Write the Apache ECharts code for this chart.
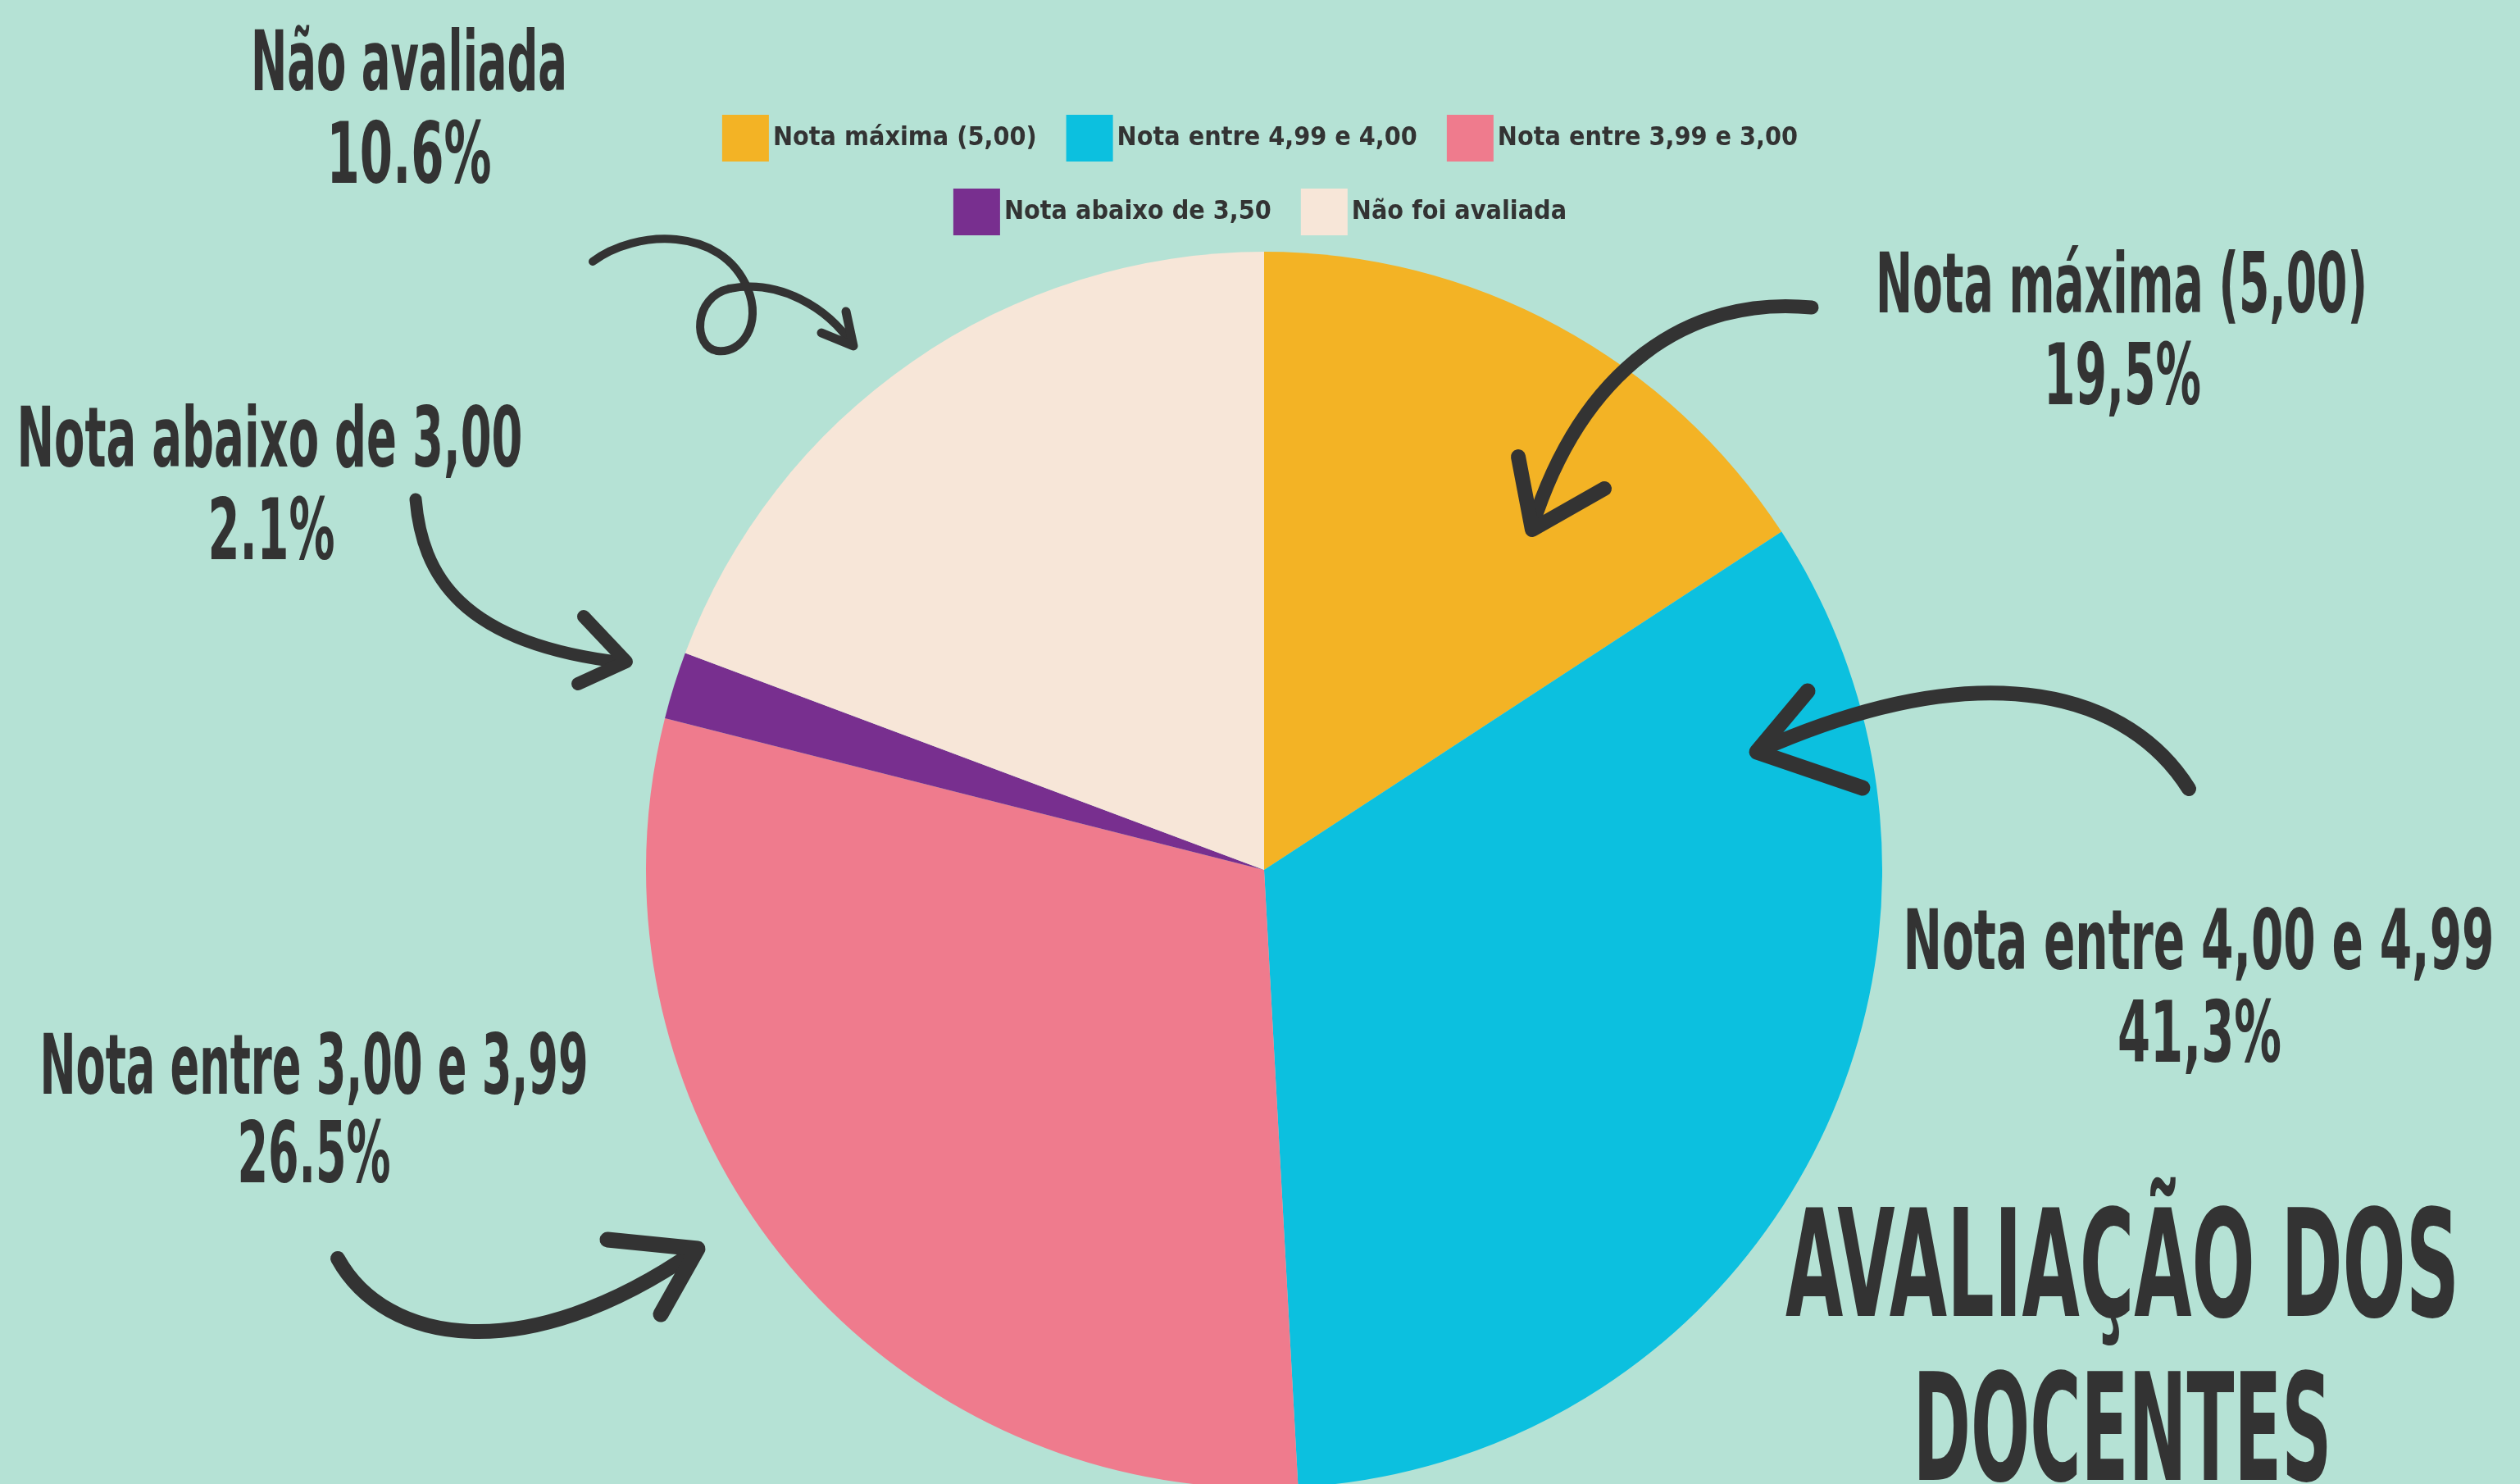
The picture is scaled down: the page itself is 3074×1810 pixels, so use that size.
<!DOCTYPE html>
<html>
<head>
<meta charset="utf-8">
<title>Avaliação dos docentes</title>
<script src="https://cdn.jsdelivr.net/npm/echarts@6/dist/echarts.min.js"></script>
<style>
  html, body { margin: 0; padding: 0; background: #b5e2d5; }
  #chart { width: 3074px; height: 1810px; }
</style>
</head>
<body>
<div id="chart"></div>
<script>
// slices (9/19/17/1/11 of 57)
const categories = ['Nota máxima (5,00)', 'Nota entre 4,99 e 4,00', 'Nota entre 3,99 e 3,00', 'Nota abaixo de 3,50', 'Não foi avaliada'];
const counts = [9, 19, 17, 1, 11];
const sliceColors = ['#f3b325', '#0cc0df', '#ef7b8d', '#782f8f', '#f7e6d8'];

// callout texts written on the picture
const calloutTitles = ['Não avaliada', 'Nota abaixo de 3,00', 'Nota máxima (5,00)', 'Nota entre 4,00 e 4,99', 'Nota entre 3,00 e 3,99'];
const calloutPercents = ['10.6%', '2.1%', '19,5%', '41,3%', '26.5%'];
const titleLines = ['AVALIAÇÃO DOS', 'DOCENTES'];

const FONT = "'Liberation Sans Narrow', 'DejaVu Sans Condensed', 'Roboto', sans-serif";
const INK = '#333333';

// layout of the callouts: [centerX, midY, target width]
const titlePos = [[499, 84, 386], [329, 543, 617], [2588, 355, 600], [2682, 1156, 721], [383, 1308, 669]];
const pctPos = [[499, 196, 201], [331, 655, 155], [2589, 466, 192], [2683, 1268, 200], [383, 1415, 187]];
const headPos = [[2589, 1558, 822], [2589, 1758, 511]];

// hand drawn arrows: cubic pieces [x1,y1,cx1,cy1,cx2,cy2,x2,y2], heads, widths
const arrowCurves = [
  [[723, 319, 775, 280, 880, 275, 912, 352], [912, 352, 930, 395, 905, 432, 875, 428],
   [875, 428, 845, 424, 845, 362, 890, 352], [890, 352, 950, 340, 1010, 375, 1040, 421]],
  [[507, 609, 515, 700, 560, 785, 760, 808]],
  [[2210, 375, 2060, 360, 1930, 450, 1869, 642]],
  [[2670, 962, 2600, 850, 2430, 790, 2146, 915]],
  [[412, 1535, 470, 1640, 640, 1670, 848, 1526]]
];
const arrowHeads = [
  [[1002, 406], [1041, 422], [1032, 380]],
  [[712, 752], [764, 807], [705, 834]],
  [[1852, 557], [1869, 646], [1957, 596]],
  [[2205, 843], [2143, 917], [2272, 961]],
  [[741, 1512], [851, 1523], [806, 1603]]
];
const arrowWidths = [10, 15, 17, 18, 18];

const ctx = document.createElement('canvas').getContext('2d');
function measure(text, size) {
  ctx.font = 'bold ' + size + 'px ' + FONT;
  return ctx.measureText(text).width;
}

function condensedText(text, pos, size) {
  const w = measure(text, size);
  return {
    type: 'text',
    z: 100,
    x: pos[0],
    y: pos[1],
    scaleX: pos[2] / w,
    style: {
      text: text,
      fill: INK,
      fontFamily: FONT,
      fontWeight: 'bold',
      fontSize: size,
      align: 'center',
      verticalAlign: 'middle'
    },
    silent: true
  };
}

const lineStyle = (w) => ({ fill: 'none', stroke: INK, lineWidth: w, lineCap: 'round', lineJoin: 'round' });

const graphics = [];
calloutTitles.forEach((t, i) => graphics.push(condensedText(t, titlePos[i], 101)));
calloutPercents.forEach((t, i) => graphics.push(condensedText(t, pctPos[i], 103)));
titleLines.forEach((t, i) => graphics.push(condensedText(t, headPos[i], 181)));

arrowCurves.forEach((pieces, i) => {
  pieces.forEach(p => graphics.push({
    type: 'bezierCurve',
    z: 100,
    shape: { x1: p[0], y1: p[1], cpx1: p[2], cpy1: p[3], cpx2: p[4], cpy2: p[5], x2: p[6], y2: p[7] },
    style: lineStyle(arrowWidths[i]),
    silent: true
  }));
  graphics.push({
    type: 'polyline',
    z: 100,
    shape: { points: arrowHeads[i] },
    style: lineStyle(arrowWidths[i] + 1),
    silent: true
  });
});

// legend text a little larger than a pure width fit, the source font is very narrow
const legendSize = Math.round(1.12 * 56 * 286 / measure('Nota máxima (5,00)', 56));

const legendBase = {
  left: 'center',
  orient: 'horizontal',
  icon: 'rect',
  itemWidth: 57,
  itemHeight: 57,
  itemGap: 36,
  selectedMode: false,
  textStyle: { color: INK, fontFamily: FONT, fontWeight: 'bold', fontSize: legendSize }
};

const chart = echarts.init(document.getElementById('chart'));
chart.setOption({
  backgroundColor: '#b5e2d5',
  animation: false,
  legend: [
    Object.assign({}, legendBase, { top: 135, data: categories.slice(0, 3) }),
    Object.assign({}, legendBase, { top: 225, data: categories.slice(3) })
  ],
  series: [{
    type: 'pie',
    center: [1542, 1061],
    radius: 754,
    startAngle: 90,
    clockwise: true,
    silent: true,
    label: { show: false },
    labelLine: { show: false },
    itemStyle: { borderWidth: 0 },
    data: categories.map((name, i) => ({ name: name, value: counts[i], itemStyle: { color: sliceColors[i] } }))
  }],
  graphic: graphics
});
</script>
</body>
</html>
